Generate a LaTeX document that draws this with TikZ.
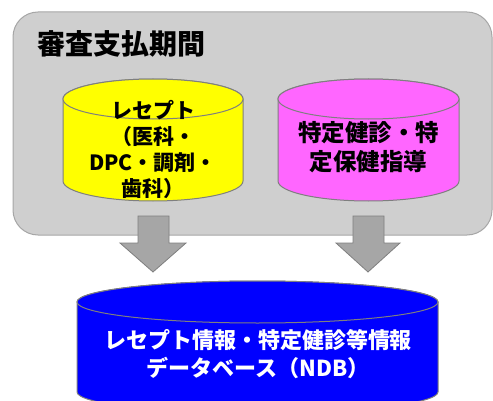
\documentclass[tikz,border=0pt]{standalone}
\usepackage{fontspec}
\setmainfont{Noto Sans CJK JP}
\definecolor{boxfill}{HTML}{CFCFCF}
\definecolor{boxline}{HTML}{A6A6A6}
\definecolor{arrfill}{HTML}{A6A6A6}
\definecolor{arrline}{HTML}{7F7F7F}
\definecolor{cylline}{HTML}{7F7F7F}
\definecolor{cylyellow}{HTML}{FFFF00}
\definecolor{cylpink}{HTML}{FF66FF}
\definecolor{cylblue}{HTML}{0000FF}
\tikzset{
  cylshape/.style={draw=cylline, line width=1pt},
  blockarrow/.style={fill=arrfill, draw=arrline, line width=0.8pt},
  lbl/.style={align=center, inner sep=0pt, font=\bfseries},
}
\newcommand{\mycyl}[6]{% L, R, top y, bottom y, ry, color
  \pgfmathsetmacro{\rx}{(#2-#1)/2}
  \path[cylshape, fill=#6] (#1,#3) -- (#1,#4) arc[start angle=180, end angle=360, x radius=\rx, y radius=#5] -- (#2,#3) arc[start angle=0, end angle=180, x radius=\rx, y radius=#5] -- cycle;
  \path[cylshape, fill=#6] ({(#1+#2)/2},#3) ellipse[x radius=\rx, y radius=#5];
}
\newcommand{\myarrow}[7]{% shaft L, shaft R, top y, head y, head L, head R, tip y
  \path[blockarrow] (#1,#3) -- (#1,#4) -- (#5,#4) -- ({(#5+#6)/2},#7) -- (#6,#4) -- (#2,#4) -- (#2,#3) -- cycle;
}
\begin{document}
\begin{tikzpicture}[x=1pt,y=1pt]
\useasboundingbox (0,0) rectangle (493,400);
% period box
\path[fill=boxfill, draw=boxline, line width=1pt, rounded corners=25pt] (13,165) rectangle (492,388);
\node[lbl, anchor=west, font=\fontsize{28}{30}\selectfont\bfseries] (title) at (37,356) {審査支払期間};
% cylinders
\mycyl{63}{243}{301}{219}{20}{cylyellow}
\mycyl{278}{459}{301}{219}{20}{cylpink}
\node[lbl, font=\fontsize{21}{26}\selectfont\bfseries] (rece) at (153,251) {レセプト\\（医科・\\DPC・調剤・\\歯科）};
\node[lbl, font=\fontsize{23.5}{29}\selectfont\bfseries] (kenshin) at (368.5,252.5) {特定健診・特\\定保健指導};
% arrows
\myarrow{138}{169}{184}{157}{120}{186}{128}
\myarrow{353}{384}{184}{157}{336}{400}{128}
% NDB cylinder
\mycyl{77}{438}{98}{8}{21}{cylblue}
\node[lbl, text=white, font=\fontsize{22}{28}\selectfont\bfseries] (ndb) at (258,46) {レセプト情報・特定健診等情報\\データベース（NDB）};
\end{tikzpicture}
\end{document}
